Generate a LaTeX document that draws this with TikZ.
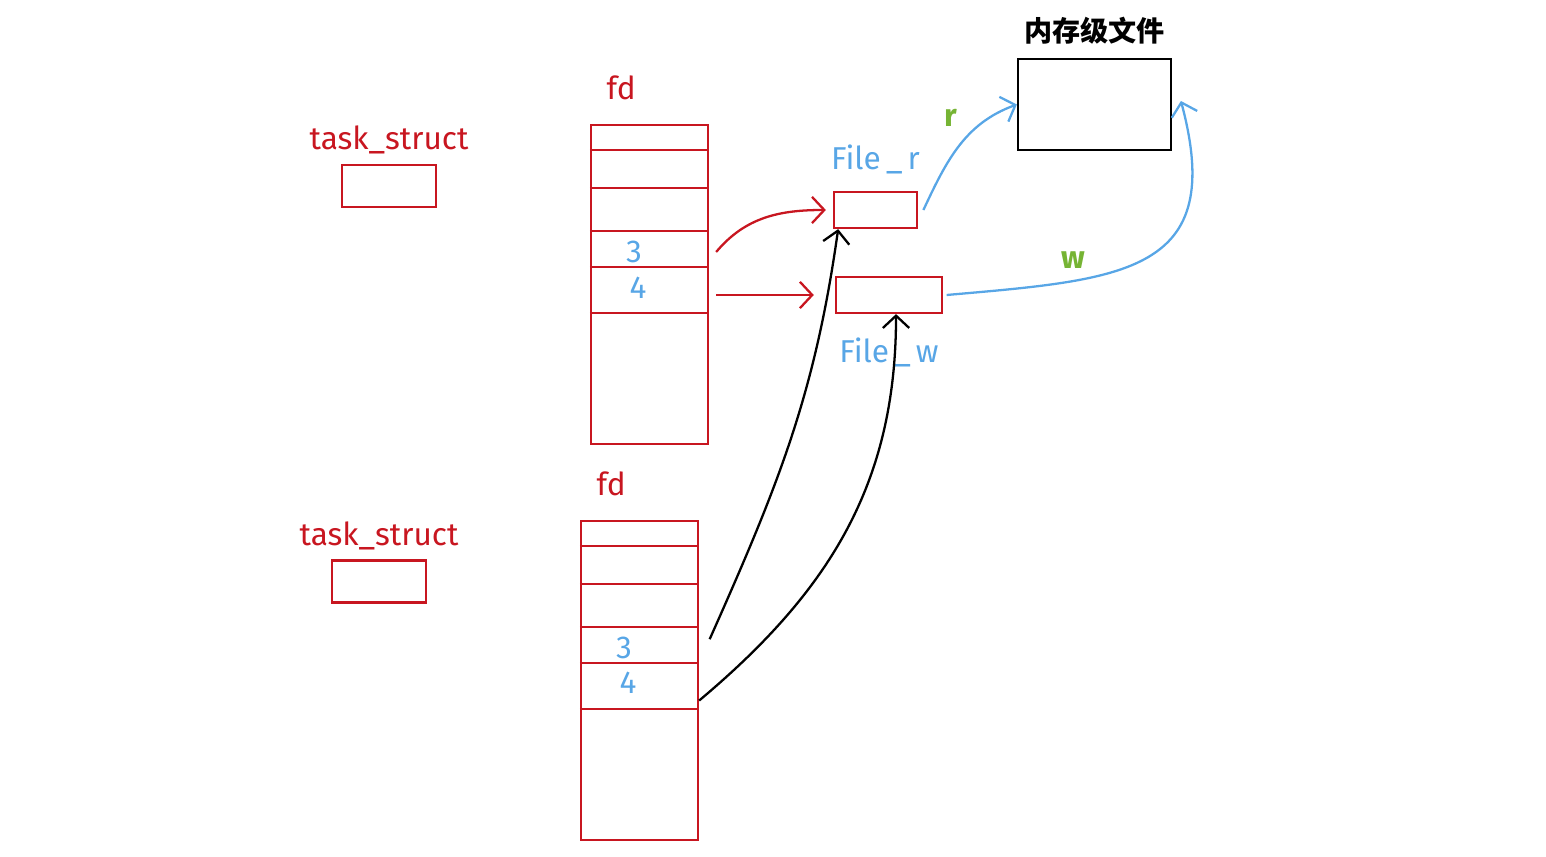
\documentclass[tikz,border=0pt]{standalone}
\usepackage{fontspec}
\setmainfont{Fira Sans}
\newfontfamily\cjk{Noto Sans CJK SC}
\usepackage{xcolor}
\usetikzlibrary{arrows.meta,calc,positioning}
\definecolor{pen}{RGB}{200,22,32}
\definecolor{sky}{RGB}{88,166,230}
\definecolor{leaf}{RGB}{118,180,52}
\tikzset{
  box/.style={draw=pen,line width=1.3pt,inner sep=0pt},
  redtxt/.style={text=pen,font=\fontsize{18}{20}\selectfont},
  bluetxt/.style={text=sky,font=\fontsize{18}{20}\selectfont},
  greentxt/.style={text=leaf,font=\fontsize{18}{20}\selectfont\bfseries},
  tip/.style={-{Straight Barb[length=7pt,width=15pt,line width=1.3pt]},line width=1.3pt}
}
\begin{document}
\begin{tikzpicture}[x=.02cm,y=.02cm]
\useasboundingbox (0,0) rectangle (1546,-857);
% task_struct boxes
\node[box,minimum width=1.88cm,minimum height=.84cm] (ts1) at (389,-186){};
\node[redtxt,above=2pt of ts1] (ts1l){task\_struct};
\node[box,minimum width=1.88cm,minimum height=.84cm] (ts2) at (379,-581.5){};
\node[redtxt,above=2pt of ts2] (ts2l){task\_struct};
% fd tables
\node[box,minimum width=2.34cm,minimum height=6.38cm] (fd1) at (649.5,-284.5){};
\node[redtxt,above right=10pt and 6pt of fd1.north west] (fd1l){fd};
\node[box,minimum width=2.34cm,minimum height=6.38cm] (fd2) at (639.5,-680.5){};
\node[redtxt,above right=10pt and 6pt of fd2.north west] (fd2l){fd};
\foreach \t in {fd1,fd2}
  \foreach \d in {26,64,107,143,189}
    \draw[pen,line width=1.3pt] ([yshift=-\d*0.02cm]\t.north west) -- ([yshift=-\d*0.02cm]\t.north east);
\node[bluetxt] (a3) at (634,-252){3};
\node[bluetxt] (a4) at (638,-288){4};
\node[bluetxt] (b3) at (624,-648){3};
\node[bluetxt] (b4) at (628,-683){4};
% struct file
\node[box,minimum width=1.66cm,minimum height=.72cm] (fr) at (875.5,-210){};
\node[bluetxt,above=6pt of fr] (frl){File\,\_\,r};
\node[box,minimum width=2.12cm,minimum height=.72cm] (fw) at (889,-295){};
\node[bluetxt,below=10pt of fw] (fwl){File\,\_\,w};
\node[draw,line width=1.3pt,minimum width=3.06cm,minimum height=1.82cm] (mem) at (1094.5,-104.5){};
\node[above=4pt of mem,font=\cjk\fontsize{16}{18}\selectfont\bfseries] (meml){内存级文件};
% pointers
\draw[tip,pen] ([xshift=4pt]fd1.east |- a3) to[out=50,in=180] ([xshift=-4pt]fr.west);
\draw[tip,pen] ([xshift=4pt]fd1.east |- fw.west) -- ([xshift=-12pt]fw.west);
\draw[tip] ([xshift=6pt,yshift=5pt]fd2.east |- b3) to[out=66,in=-98] ([xshift=3pt]fr.south west);
\draw[tip] ([yshift=-10pt]fd2.east |- b4) to[out=40,in=-90] ([xshift=4pt]fw.south);
\draw[tip,sky] ([xshift=3pt]fr.east) to[out=65,in=200] node[greentxt,pos=.55,above left=4pt and 0pt]{r} (mem.west);
\draw[tip,sky] ([xshift=2pt]fw.east) to[out=5,in=-75,looseness=1.5] node[greentxt,pos=.27,above=3pt]{w} ([xshift=5pt,yshift=2pt]mem.east);
\end{tikzpicture}
\end{document}
